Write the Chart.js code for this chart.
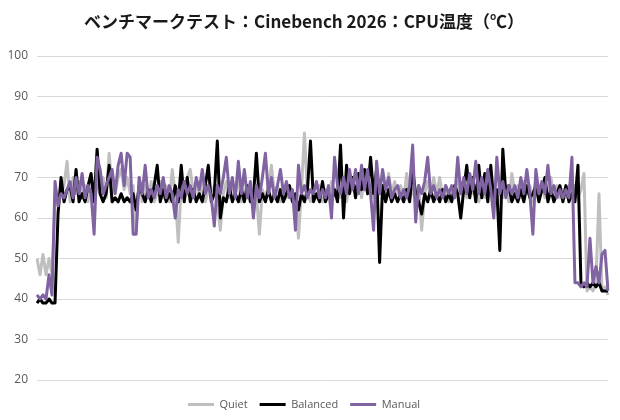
<!DOCTYPE html>
<html>
<head>
<meta charset="utf-8">
<script src="https://cdn.jsdelivr.net/npm/chart.js@4/dist/chart.umd.min.js"></script>
<style>
html,body{margin:0;padding:0;background:#fff;}
#wrap{width:620px;height:420px;}
</style>
</head>
<body>
<div id="wrap"><canvas id="c" width="620" height="420"></canvas></div>
<script>
const chartTitle = "ベンチマークテスト：Cinebench 2026：CPU温度（℃）";
const seriesNames = ["Quiet", "Balanced", "Manual"];
const yTicks = [20, 30, 40, 50, 60, 70, 80, 90, 100];

const quiet = [
50,46,51,46,50,46,63,65,66,68, 74,64,70,66,69,65,68,64,70,66,
68,66,70,65,76,67,66,70,72,67, 70,66,68,57,70,64,68,65,69,64,
66,69,65,68,64,72,66,54,68,65, 70,72,66,68,65,69,64,67,65,68,
64,57,66,69,65,68,66,70,64,67, 65,68,64,66,56,67,65,68,73,66,
68,64,67,65,68,64,66,55,67,81, 66,64,66,65,68,64,67,65,69,66,
68,65,67,64,68,70,66,69,65,70, 66,68,65,70,66,68,65,71,66,69,
66,68,64,71,65,67,64,68,57,66, 69,65,70,66,70,65,68,64,67,65,
69,66,68,65,70,66,68,64,67,65, 69,66,68,64,67,65,68,64,71,66,
68,65,69,66,68,64,70,66,68,65, 67,70,65,68,65,67,65,68,66,68,
65,67,71,42,43,42,44,66,42,43, 41
];
const balanced = [
39,40,39,39,40,39,39,61,70,64, 67,68,64,72,64,66,64,68,71,64,
77,66,64,66,73,64,65,64,66,64, 65,64,66,62,68,66,64,67,64,68,
73,64,67,64,66,64,68,64,73,64, 70,64,67,64,66,64,68,73,64,66,
79,60,65,64,68,64,66,64,67,64, 68,64,65,76,64,66,64,67,64,66,
64,67,64,66,68,64,66,62,66,64, 67,79,64,66,64,69,64,66,64,67,
64,78,60,73,66,70,65,71,67,72, 66,75,66,72,49,68,64,67,64,66,
64,66,64,67,64,72,66,64,61,66, 64,67,64,66,64,67,64,66,64,68,
66,60,67,73,65,70,64,73,65,71, 64,73,64,67,52,77,66,68,64,66,
64,67,64,68,65,66,68,64,67,70, 64,67,64,66,68,64,68,64,66,64,
73,44,43,44,43,44,43,44,42,42, 42
];
const manual = [
41,40,41,40,46,41,69,63,66,65, 67,69,65,70,66,71,65,68,66,56,
75,72,66,68,70,72,66,73,76,68, 76,75,56,56,70,66,73,65,67,65,
68,66,70,65,68,66,60,67,65,69, 66,68,65,70,67,72,66,68,65,58,
68,66,70,75,66,70,65,74,66,72, 65,69,60,68,65,70,76,66,70,65,
68,72,66,69,65,67,57,73,66,68, 65,67,66,69,65,67,65,68,60,75,
68,66,70,66,72,67,72,66,73,67, 72,66,57,74,66,72,67,70,65,67,
68,65,67,65,68,78,59,68,66,69, 75,66,68,65,67,65,68,66,68,65,
75,66,70,66,71,67,74,66,70,66, 72,67,60,75,66,69,65,68,66,68,
65,70,66,72,66,56,72,66,69,66, 73,66,68,65,67,65,67,65,75,44,
44,43,44,43,55,44,48,44,51,52, 42
];
const sampleLabels = quiet.map((_, i) => String(i + 1));

const colors = ["#BFBFBF", "#000000", "#8064A2"];
const seriesData = [quiet, balanced, manual];

const datasets = seriesData.map((d, k) => ({
  label: seriesNames[k],
  data: d,
  borderColor: colors[k],
  backgroundColor: colors[k],
  borderWidth: 3,
  pointRadius: 0,
  pointHoverRadius: 0,
  tension: 0,
  borderJoinStyle: 'round',
  borderCapStyle: 'butt',
  order: 3 - k
}));

new Chart(document.getElementById('c'), {
  type: 'line',
  data: { labels: sampleLabels, datasets },
  options: {
    responsive: false,
    animation: false,
    events: [],
    layout: { padding: { left: 0, right: 12, top: 0, bottom: 0 } },
    plugins: {
      title: {
        display: true,
        text: chartTitle,
        color: '#1a1a1a',
        font: { family: '"Noto Sans CJK JP", sans-serif', size: 17, weight: 'bold' },
        padding: { top: 11, bottom: 24.6 }
      },
      legend: {
        position: 'bottom',
        labels: {
          color: '#595959',
          font: { family: '"Open Sans", sans-serif', size: 11 },
          boxWidth: 26,
          boxHeight: 3,
          padding: 12,
          sort: (a, b) => a.datasetIndex - b.datasetIndex,
          generateLabels: (chart) => chart.data.datasets.map((ds, i) => ({
            text: ds.label,
            fillStyle: ds.borderColor,
            strokeStyle: ds.borderColor,
            lineWidth: 0,
            fontColor: '#595959',
            hidden: false,
            datasetIndex: i
          }))
        }
      },
      tooltip: { enabled: false }
    },
    scales: {
      x: {
        display: true,
        offset: false,
        grid: { display: false },
        border: { display: false },
        ticks: { display: false },
        afterFit: (s) => { s.height = 7; }
      },
      y: {
        min: 20,
        max: 100,
        afterFit: (s) => { s.width = 37; },
        afterBuildTicks: (s) => { s.ticks = yTicks.map(v => ({ value: v })); },
        grid: { color: '#D9D9D9', lineWidth: 1, drawTicks: false },
        border: { display: false },
        ticks: {
          padding: 9,
          color: '#595959',
          font: { family: '"Open Sans", sans-serif', size: 12 }
        }
      }
    }
  }
});
</script>
</body>
</html>
